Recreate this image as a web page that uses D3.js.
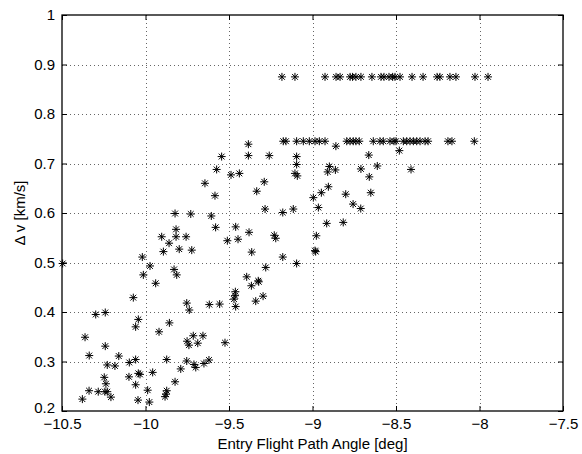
<!DOCTYPE html>
<html><head><meta charset="utf-8">
<script src="https://cdn.jsdelivr.net/npm/d3@7/dist/d3.min.js"></script>
<style>body{margin:0;background:#fff}svg{display:block}</style>
</head><body><svg id="chart" width="582" height="454"></svg>
<script>
const xTicks = [-10.5, -10, -9.5, -9, -8.5, -8, -7.5];
const xTickLabels = ["\u221210.5", "\u221210", "\u22129.5", "\u22129", "\u22128.5", "\u22128", "\u22127.5"];
const yTicks = [0.2, 0.3, 0.4, 0.5, 0.6, 0.7, 0.8, 0.9, 1];
const yTickLabels = ["0.2", "0.3", "0.4", "0.5", "0.6", "0.7", "0.8", "0.9", "1"];
const xLabel = "Entry Flight Path Angle [deg]";
const yLabel = "\u0394 v [km/s]";

// upper band (~0.875 km/s)
const upperAngle = [-9.183, -9.105, -8.925, -8.859, -8.835, -8.775, -8.760, -8.740, -8.710, -8.644, -8.590, -8.572,
  -8.542, -8.520, -8.506, -8.476, -8.404, -8.338, -8.254, -8.237, -8.177, -8.141, -8.027, -7.949];
const upperDv = [0.875, 0.875, 0.875, 0.875, 0.875, 0.875, 0.875, 0.875, 0.875, 0.875, 0.875, 0.875,
  0.875, 0.875, 0.875, 0.875, 0.875, 0.875, 0.875, 0.875, 0.875, 0.875, 0.875, 0.875];

// middle band (~0.745 km/s)
const middleAngle = [-9.175, -9.159, -9.095, -9.055, -9.019, -8.985, -8.959, -8.925, -8.795, -8.775, -8.756, -8.740,
  -8.720, -8.636, -8.596, -8.576, -8.536, -8.512, -8.500, -8.456, -8.436, -8.416, -8.396, -8.376, -8.356, -8.326,
  -8.308, -8.189, -8.165, -8.031];
const middleDv = [0.745, 0.745, 0.745, 0.745, 0.745, 0.745, 0.745, 0.745, 0.745, 0.745, 0.745, 0.745,
  0.745, 0.745, 0.745, 0.745, 0.745, 0.745, 0.745, 0.745, 0.745, 0.745, 0.745, 0.745, 0.745, 0.745,
  0.745, 0.745, 0.745, 0.745];

// scattered cases
const scatterAngle = [-9.644, -9.584, -9.823, -9.729, -9.606, -9.580, -9.460, -9.817, -9.903, -9.817, -9.757, -9.446,
  -9.510, -9.380, -9.859, -9.893, -9.798, -9.723, -10.019, -9.973, -9.829, -9.813, -10.013, -9.939, -9.394, -9.462,
  -9.464, -9.470, -10.496, -9.753, -9.738, -9.618, -9.556, -9.460, -10.073, -10.298, -10.241, -10.043, -10.059, -9.857,
  -9.919, -10.362, -10.337, -10.241, -10.160, -10.229, -10.183, -10.097, -10.059, -9.873, -9.753, -9.710, -9.699,
  -9.650, -9.620, -9.524, -9.687, -9.656, -9.740, -9.751, -9.714, -10.099, -10.043, -10.033, -9.957, -9.789, -10.247,
  -10.237, -10.243, -10.229, -10.207, -10.059, -10.045, -9.987, -9.977, -9.873, -9.877, -9.883, -9.823, -10.338,
  -10.283, -10.378,
  -9.384, -9.384, -9.544, -9.259, -9.095, -9.095, -9.574, -9.488, -9.438, -9.105, -9.091, -9.289, -9.334, -8.995,
  -8.947, -8.905, -8.909, -8.899, -8.863, -8.801, -8.757, -8.711, -8.710, -8.660, -8.651, -8.663, -8.612, -8.965,
  -9.284, -9.178, -9.115, -9.229, -9.220, -8.915, -8.816, -8.977, -8.985, -8.981, -9.364, -9.178, -9.095, -9.280,
  -9.325, -9.322, -9.366, -9.296, -9.340, -8.480, -8.410, -8.860];
const scatterDv = [0.660, 0.635, 0.599, 0.598, 0.594, 0.571, 0.572, 0.567, 0.552, 0.552, 0.552, 0.547,
  0.544, 0.561, 0.539, 0.522, 0.527, 0.525, 0.511, 0.493, 0.486, 0.475, 0.475, 0.458, 0.471, 0.441,
  0.433, 0.426, 0.498, 0.418, 0.404, 0.415, 0.416, 0.411, 0.429, 0.395, 0.399, 0.385, 0.370, 0.378,
  0.360, 0.349, 0.312, 0.331, 0.311, 0.293, 0.291, 0.298, 0.304, 0.304, 0.301, 0.294, 0.288,
  0.296, 0.303, 0.338, 0.337, 0.352, 0.333, 0.341, 0.352, 0.269, 0.276, 0.274, 0.278, 0.285, 0.268,
  0.255, 0.239, 0.239, 0.228, 0.253, 0.222, 0.242, 0.218, 0.241, 0.234, 0.229, 0.259, 0.241,
  0.239, 0.224,
  0.739, 0.716, 0.714, 0.716, 0.714, 0.698, 0.688, 0.677, 0.680, 0.680, 0.675, 0.663, 0.644, 0.631,
  0.641, 0.653, 0.683, 0.694, 0.687, 0.638, 0.618, 0.609, 0.689, 0.673, 0.641, 0.717, 0.695, 0.611,
  0.608, 0.601, 0.608, 0.555, 0.549, 0.579, 0.581, 0.554, 0.524, 0.522, 0.521, 0.511, 0.498, 0.490,
  0.463, 0.461, 0.453, 0.432, 0.422, 0.726, 0.688, 0.735];

const points = [];
upperAngle.forEach((a, i) => points.push([a, upperDv[i]]));
middleAngle.forEach((a, i) => points.push([a, middleDv[i]]));
scatterAngle.forEach((a, i) => points.push([a, scatterDv[i]]));

const L = 62, R = 563, T = 15, B = 411;
const x = d3.scaleLinear().domain([-10.5, -7.5]).range([L, R]);
const y = d3.scaleLinear().domain([0.2, 1]).range([B, T]);

const svg = d3.select("#chart");
const font = "'Liberation Sans', Arial, Helvetica, sans-serif";
svg.append("rect").attr("width", 582).attr("height", 454).attr("fill", "#fff");

// grid
const grid = svg.append("g").attr("stroke", "#666").attr("stroke-width", 1).attr("stroke-dasharray", "1,3").attr("shape-rendering", "crispEdges");
xTicks.slice(1, -1).forEach(t => grid.append("line").attr("x1", Math.round(x(t)) + 0.5).attr("x2", Math.round(x(t)) + 0.5).attr("y1", T).attr("y2", B));
yTicks.slice(1, -1).forEach(t => grid.append("line").attr("y1", Math.round(y(t)) + 0.5).attr("y2", Math.round(y(t)) + 0.5).attr("x1", L).attr("x2", R));

// axes via d3 axis (ticks inside)
const xAxis = d3.axisBottom(x).tickValues(xTicks).tickFormat((d, i) => xTickLabels[i]).tickSizeInner(-5).tickSizeOuter(0).tickPadding(7);
const yAxis = d3.axisLeft(y).tickValues(yTicks).tickFormat((d, i) => yTickLabels[i]).tickSizeInner(-5).tickSizeOuter(0).tickPadding(7);
const xTop = d3.axisTop(x).tickValues(xTicks).tickFormat("").tickSizeInner(-5).tickSizeOuter(0);
const yRight = d3.axisRight(y).tickValues(yTicks).tickFormat("").tickSizeInner(-5).tickSizeOuter(0);

function style(g) {
  g.select(".domain").remove();
  g.selectAll("line").attr("stroke", "#000").attr("stroke-width", 1);
  g.selectAll("text").attr("fill", "#000").style("font-family", font).style("font-size", "15px");
}
svg.append("g").attr("transform", `translate(0,${B})`).call(xAxis).call(style);
const yG = svg.append("g").attr("transform", `translate(${L},0)`).call(yAxis).call(style);
// lift the lowest y label a little so it does not collide with the first x label
yG.selectAll(".tick text").filter(d => d === yTicks[0]).attr("dy", "0.1em");
svg.append("g").attr("transform", `translate(0,${T})`).call(xTop).call(style);
svg.append("g").attr("transform", `translate(${R},0)`).call(yRight).call(style);

// box
svg.append("rect").attr("x", L).attr("y", T).attr("width", R - L).attr("height", B - T)
  .attr("fill", "none").attr("stroke", "#000").attr("stroke-width", 1.3);

// markers
const star = "M-4,0H4M0,-4V4M-2.9,-2.9L2.9,2.9M-2.9,2.9L2.9,-2.9";
svg.append("g").selectAll("path").data(points).join("path")
  .attr("transform", d => `translate(${x(d[0])},${y(d[1])})`)
  .attr("d", star).attr("stroke", "#000").attr("stroke-width", 1).attr("fill", "none");

// labels
svg.append("text").attr("x", (L + R) / 2).attr("y", 449).attr("text-anchor", "middle")
  .style("font-family", font).style("font-size", "15px").text(xLabel);
svg.append("text").attr("transform", `translate(25,${(T + B) / 2}) rotate(-90)`).attr("text-anchor", "middle")
  .style("font-family", font).style("font-size", "15px").text(yLabel);
</script></body></html>
